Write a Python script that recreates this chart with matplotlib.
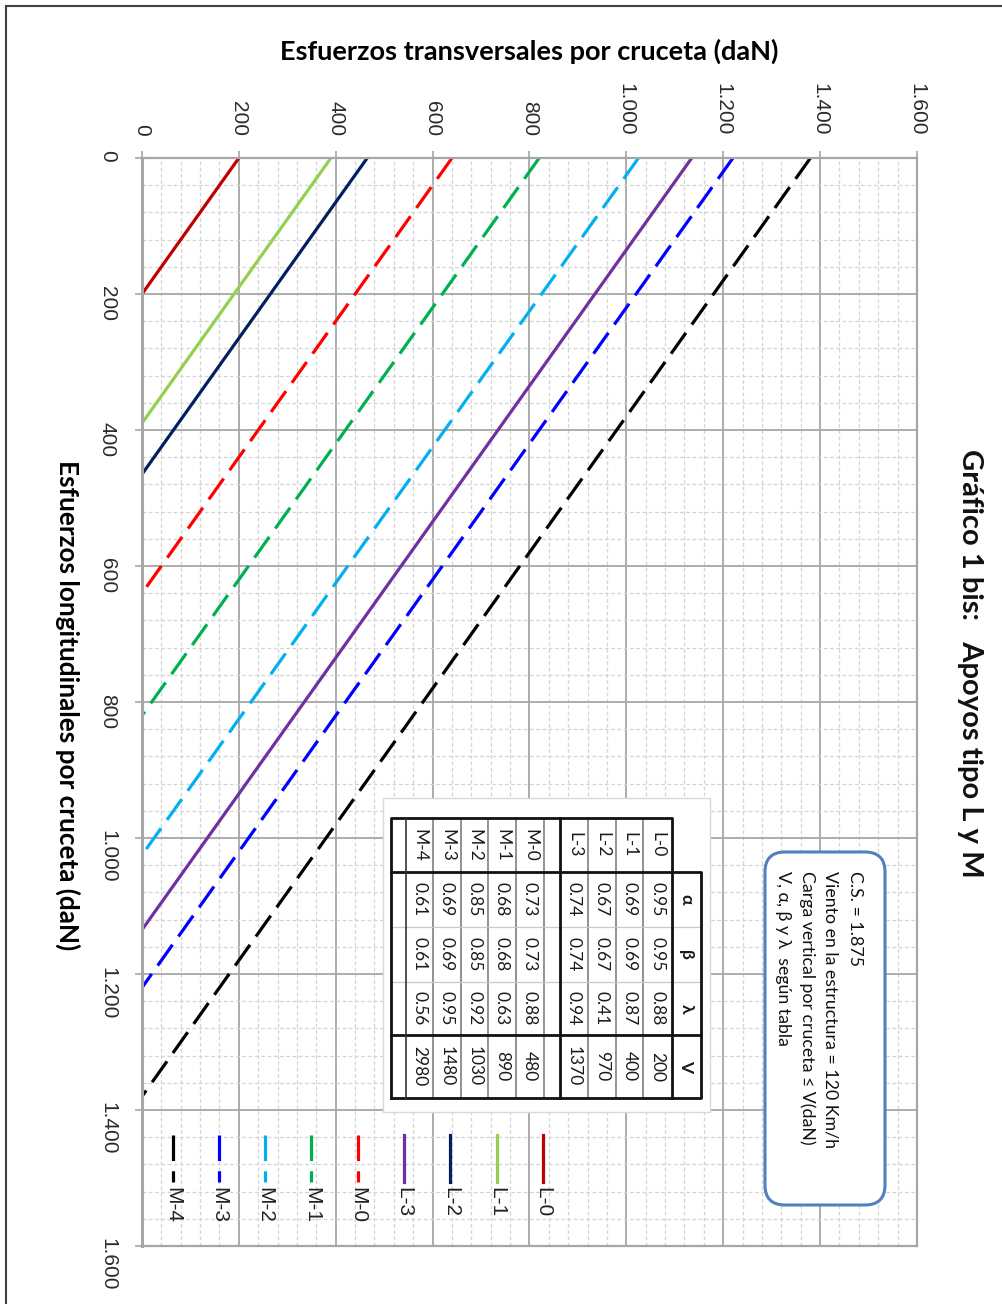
import matplotlib
matplotlib.use("Agg")
import matplotlib.pyplot as plt
from matplotlib.patches import Rectangle, FancyBboxPatch
from matplotlib.ticker import MultipleLocator, FuncFormatter

# series (apoyos) and where each line meets both axes (daN)
series = ["L-0", "L-1", "L-2", "L-3", "M-0", "M-1", "M-2", "M-3", "M-4"]
cap_daN = [200, 390, 465, 1135, 640, 820, 1025, 1220, 1380]
colors = ["#c00000", "#92d050", "#002060", "#7030a0",
          "#ff0000", "#00b050", "#00b0f0", "#0000ff", "#000000"]
dashed = [False, False, False, False, True, True, True, True, True]

# table
alpha = [0.95, 0.69, 0.67, 0.74, 0.73, 0.68, 0.85, 0.69, 0.61]
beta = [0.95, 0.69, 0.67, 0.74, 0.73, 0.68, 0.85, 0.69, 0.61]
lam = [0.88, 0.87, 0.41, 0.94, 0.88, 0.63, 0.92, 0.95, 0.56]
V = [200, 400, 970, 1370, 480, 890, 1030, 1480, 2980]

box_lines = ["C.S. = 1.875",
             "Viento en la estructura = 120 Km/h",
             "Carga vertical por cruceta \u2264 V(daN)",
             "V, \u03b1, \u03b2 y \u03bb  seg\u00fan tabla"]

title = "Gr\u00e1fico 1 bis:   Apoyos tipo L y M"
xlab = "Esfuerzos transversales por cruceta (daN)"
ylab = "Esfuerzos longitudinales por cruceta (daN)"

W, H = 1003, 1304
fig = plt.figure(figsize=(W / 100, H / 100), dpi=100)
fig.patch.set_facecolor("white")

L, R, T, B = 142, 917, 158, 1246
ax = fig.add_axes([L / W, 1 - B / H, (R - L) / W, (B - T) / H])
ax.set_xlim(0, 1600)
ax.set_ylim(1600, 0)

grey = "#a6a6a6"
fmt = FuncFormatter(lambda v, p: f"{int(round(v)):,}".replace(",", "."))
for a in (ax.xaxis, ax.yaxis):
    a.set_major_locator(MultipleLocator(200))
    a.set_minor_locator(MultipleLocator(40))
    a.set_major_formatter(fmt)
ax.xaxis.tick_top()
ax.grid(which="major", color=grey, lw=1.3)
ax.grid(which="minor", color="#d4d4d4", lw=0.9, ls=(0, (3, 2)))
ax.set_axisbelow(True)
for s in ax.spines.values():
    s.set_color(grey)
    s.set_linewidth(1.6)
ax.spines["left"].set_linewidth(2.2)
ax.tick_params(which="major", direction="out", length=5, width=1.2, color=grey,
               labelsize=15, labelcolor="#2a2a2a")
ax.tick_params(which="minor", length=0)
ax.tick_params(axis="x", labelrotation=-90, pad=11)
ax.tick_params(axis="y", labelrotation=-90, pad=13)
for lab in ax.get_xticklabels() + ax.get_yticklabels():
    lab.set_family("Liberation Sans")

ls_dash = (0, (8, 3.2))
for name, v, c, d in zip(series, cap_daN, colors, dashed):
    ax.plot([v, 0], [0, v], color=c, lw=2.3, ls=ls_dash if d else "-",
            solid_capstyle="butt", dash_capstyle="butt", label=name)

# legend drawn inside the plot, rotated like the rest
for i, (name, c, d) in enumerate(zip(series, colors, dashed)):
    xf = (543 - 46.3 * i - L) / (R - L)
    y0 = 1 - (1135 - T) / (B - T)
    y1 = 1 - (1182 - T) / (B - T)
    ax.plot([xf, xf], [y0, y1], transform=ax.transAxes, color=c, lw=2.3,
            ls=ls_dash if d else "-", dash_capstyle="butt", clip_on=False)
    ax.text(xf, 1 - (1187 - T) / (B - T), name, transform=ax.transAxes,
            rotation=-90, ha="center", va="top", fontsize=15,
            family="Liberation Sans", color="#222222")

ax.set_xlabel(xlab, fontsize=19.5, fontweight="bold", family="Lato", va="center")
ax.xaxis.set_label_position("top")
ax.xaxis.set_label_coords((529 - L) / (R - L), (B - 60) / (B - T))
ax.set_ylabel(ylab, fontsize=18.8, fontweight="bold", family="Lato",
              rotation=-90, va="center", ha="center")
ax.yaxis.set_label_coords((68 - L) / (R - L), (B - 705) / (B - T))

# overlay in pixel coordinates for table, box, title, frame
ov = fig.add_axes([0, 0, 1, 1])
ov.set_xlim(0, W)
ov.set_ylim(H, 0)
ov.axis("off")

ov.plot([6, 6], [6, H], color="#404040", lw=1.5)
ov.plot([6, W], [6, 6], color="#404040", lw=1.5)

ov.text(970, 663, title, rotation=-90, ha="center", va="center",
        fontsize=21, fontweight="bold", family="Lato", color="#111111")

# text box
ov.add_patch(FancyBboxPatch((765, 852), 120, 353, boxstyle="round,pad=0,rounding_size=20",
                            fc="white", ec="#4f81bd", lw=2.2))
for k, line in enumerate(box_lines):
    ov.text(855 - 24 * k, 871, line, rotation=-90, ha="center", va="top",
            fontsize=12.8, family=["Lato", "DejaVu Sans"], color="#111111")

# table
ov.add_patch(Rectangle((383, 798), 327, 314, fc="white", ec="#d9d9d9", lw=1))
rows = [818, 872, 927, 982, 1035, 1098]
col_r = [672, 643, 616, 588, 544, 516, 488, 461, 433]
col_l = [643, 616, 588, 560, 516, 488, 461, 433, 406]
tf = dict(rotation=-90, ha="center", va="center", fontsize=12.5,
          family=["Lato", "DejaVu Sans"], color="#1a1a1a")
for i, name in enumerate(series):
    xc = (col_r[i] + col_l[i]) / 2
    vals = [name, f"{alpha[i]:.2f}", f"{beta[i]:.2f}", f"{lam[i]:.2f}", str(V[i])]
    for j, t in enumerate(vals):
        ov.text(xc, (rows[j] + rows[j + 1]) / 2, t, **tf)
for j, h in enumerate(["\u03b1", "\u03b2", "\u03bb", "V"]):
    ov.text(686.5, (rows[j + 1] + rows[j + 2]) / 2, h, fontweight="bold", **tf)

for x in [643, 616, 588, 544, 516, 488, 461, 433]:
    ov.plot([x, x], [818, 1098], color="#7f7f7f", lw=1.2)
for y in [927, 982]:
    ov.plot([391, 701], [y, y], color="#c8c8c8", lw=0.9)
thick = dict(color="#111111", lw=2)
ov.plot([391, 391, 672, 672], [1098, 818, 818, 872], **thick)
ov.plot([672, 701, 701, 391], [872, 872, 1098, 1098], **thick)
ov.plot([391, 672], [872, 872], **thick)
ov.plot([391, 701], [1035, 1035], **thick)
ov.plot([672, 672], [872, 1098], **thick)
ov.plot([560, 560], [818, 1098], **thick)
ov.plot([406, 406], [818, 1098], color="#333333", lw=1.2)

fig.savefig("out.png", dpi=100, facecolor="white")
